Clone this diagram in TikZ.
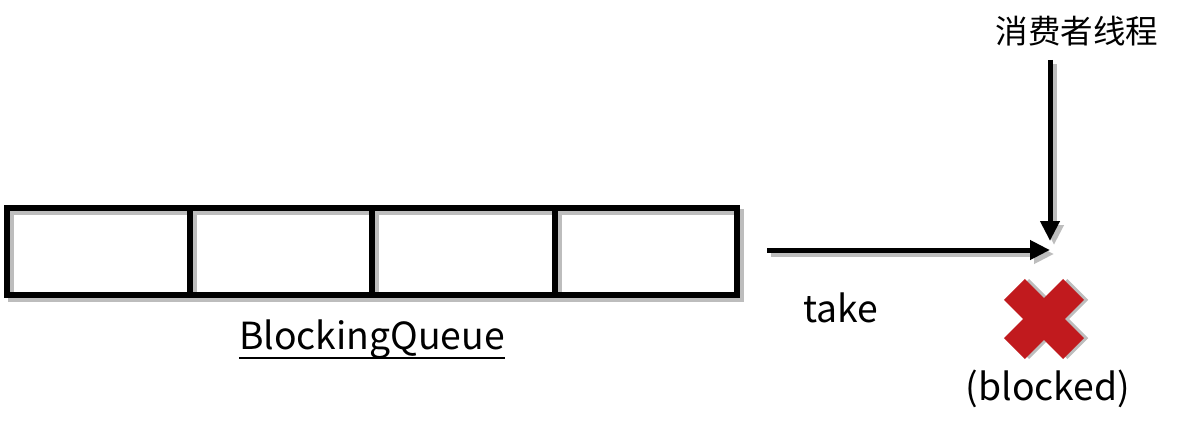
\documentclass[tikz,border=0pt]{standalone}
\usepackage{fontspec}
\setmainfont{Noto Sans CJK SC}
\usetikzlibrary{calc,arrows.meta}
\definecolor{xred}{HTML}{C11A1E}
\definecolor{shadowgray}{HTML}{BDBDBD}
\tikzset{
  cell/.style={draw=black, line width=4.5pt, minimum width=136.9pt, minimum height=65.25pt, outer sep=0pt, inner sep=0pt},
  shadowline/.style={draw=shadowgray, line width=4.5pt},
  arrowline/.style={draw=black, line width=3.75pt, -{Triangle[length=15pt,width=14pt]}},
  arrowshadow/.style={draw=shadowgray, line width=3.75pt, -{Triangle[length=15pt,width=14pt]}},
  latintext/.style={inner sep=0pt, font=\fontsize{28pt}{34pt}\selectfont},
  cjktext/.style={inner sep=0pt, font=\fontsize{24.4pt}{29pt}\selectfont},
}
\begin{document}
\begin{tikzpicture}[x=0.75pt,y=-0.75pt]
\useasboundingbox (0,0) rectangle (1181,435);
% queue cells
\node[cell] (c1) at (98.25,251.5) {};
\node[cell, anchor=west] (c2) at (c1.east) {};
\node[cell, anchor=west] (c3) at (c2.east) {};
\node[cell, anchor=west] (c4) at (c3.east) {};
% shadows of the cells
\draw[shadowline] ($(c1.north west)+(4,4)$) rectangle ($(c4.south east)+(4,4)$);
\draw[shadowline] ($(c1.north east)+(4,4)$) -- ($(c1.south east)+(4,4)$);
\draw[shadowline] ($(c2.north east)+(4,4)$) -- ($(c2.south east)+(4,4)$);
\draw[shadowline] ($(c3.north east)+(4,4)$) -- ($(c3.south east)+(4,4)$);
\draw[black, line width=4.5pt] (c1.north west) rectangle (c4.south east);
\draw[black, line width=4.5pt] (c1.north east) -- (c1.south east);
\draw[black, line width=4.5pt] (c2.north east) -- (c2.south east);
\draw[black, line width=4.5pt] (c3.north east) -- (c3.south east);
% labels
\node[latintext, anchor=base] (bq) at (372,349) {BlockingQueue};
\draw[line width=1.9pt] ($(bq.base west)+(0,9)$) -- ($(bq.base east)+(0,9)$);
\node[latintext, anchor=base] (take) at (841,322) {take};
\node[cjktext] (cons) at (1077,31) {消费者线程};
\node[latintext, anchor=base] (blk) at (1048,400) {(blocked)};
% arrows
\coordinate (ts) at (767,250);
\coordinate (th) at (1050,250);
\coordinate (vs) at (1050,60);
\coordinate (vh) at (1050,241);
\draw[arrowshadow] ($(ts)+(4,4)$) -- ($(th)+(4,4)$);
\draw[arrowshadow] ($(vs)+(4,4)$) -- ($(vh)+(4,4)$);
\draw[arrowline] (ts) -- (th);
\draw[arrowline] (vs) -- (vh);
% red cross
\begin{scope}[shift={(1044,319)}, rotate=45]
\fill[shadowgray] ($(-41.8,-14.8)+(3,3)$) -- ($(-14.8,-14.8)+(3,3)$) -- ($(-14.8,-41.8)+(3,3)$) -- ($(14.8,-41.8)+(3,3)$) -- ($(14.8,-14.8)+(3,3)$) -- ($(41.8,-14.8)+(3,3)$) -- ($(41.8,14.8)+(3,3)$) -- ($(14.8,14.8)+(3,3)$) -- ($(14.8,41.8)+(3,3)$) -- ($(-14.8,41.8)+(3,3)$) -- ($(-14.8,14.8)+(3,3)$) -- ($(-41.8,14.8)+(3,3)$) -- cycle;
\fill[xred] (-41.8,-14.8) -- (-14.8,-14.8) -- (-14.8,-41.8) -- (14.8,-41.8) -- (14.8,-14.8) -- (41.8,-14.8) -- (41.8,14.8) -- (14.8,14.8) -- (14.8,41.8) -- (-14.8,41.8) -- (-14.8,14.8) -- (-41.8,14.8) -- cycle;
\end{scope}
\end{tikzpicture}
\end{document}
